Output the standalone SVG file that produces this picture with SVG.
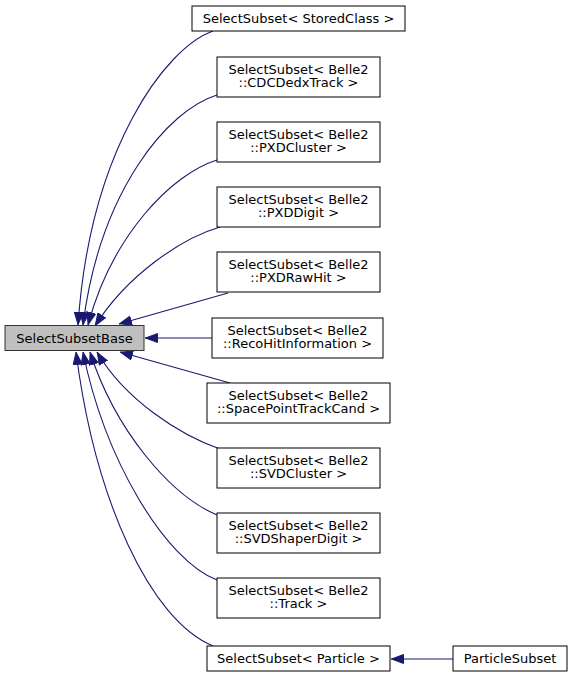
<svg xmlns="http://www.w3.org/2000/svg" width="573" height="677" viewBox="0 0 573 677">
<style>
.n rect{fill:#ffffff;stroke:#000000;stroke-width:1}
.n.cur rect{fill:#bfbfbf;stroke:#333333}
text{font-family:"DejaVu Sans","Liberation Sans",sans-serif;font-size:13px;fill:#000000;text-anchor:middle}
.e path{fill:none;stroke:#191970;stroke-width:1.1;marker-end:url(#ah)}
</style>
<defs>
<marker id="ah" markerUnits="userSpaceOnUse" viewBox="0 0 13 10" refX="13" refY="5" markerWidth="13" markerHeight="10" orient="auto">
<path d="M0.5,0.5 L12.5,5 L0.5,9.5 z" fill="#191970" stroke="#191970" stroke-width="1"/>
</marker>
</defs>
<rect width="573" height="677" fill="#ffffff"/>
<g id="edges" class="e">
<path d="M213,31 C165,48 90,150 78,325"/>
<path d="M217,95 C168,110 100,190 83,325"/>
<path d="M217,160 C172,174 112,235 88,325"/>
<path d="M220,227 C182,238 127,275 95,326"/>
<path d="M228,293 L119,324"/>
<path d="M212,338 L145,338"/>
<path d="M230,383 L120,352"/>
<path d="M220,449 C180,435 125,400 97,352"/>
<path d="M217,515 C170,495 115,430 90,352"/>
<path d="M217,580 C165,560 105,460 83,352"/>
<path d="M213,646 C150,620 95,500 76,352"/>
<path d="M453,659 L391,659"/>
</g>
<g id="node_base" class="n cur"><rect x="5" y="325.5" width="139" height="25"/><text x="74.5" y="342.5">SelectSubsetBase</text></g>
<g id="node_stored" class="n"><rect x="192" y="6" width="213" height="25"/><text x="298.5" y="23">SelectSubset&lt; StoredClass &gt;</text></g>
<g id="node_cdc" class="n"><rect x="217" y="57" width="163" height="40"/><text x="298.5" y="74">SelectSubset&lt; Belle2<tspan x="298.5" dy="13">::CDCDedxTrack &gt;</tspan></text></g>
<g id="node_pxdcluster" class="n"><rect x="217" y="122" width="163" height="40"/><text x="298.5" y="139">SelectSubset&lt; Belle2<tspan x="298.5" dy="13">::PXDCluster &gt;</tspan></text></g>
<g id="node_pxddigit" class="n"><rect x="217" y="187" width="163" height="40"/><text x="298.5" y="204">SelectSubset&lt; Belle2<tspan x="298.5" dy="13">::PXDDigit &gt;</tspan></text></g>
<g id="node_pxdraw" class="n"><rect x="217" y="252" width="163" height="40"/><text x="298.5" y="269">SelectSubset&lt; Belle2<tspan x="298.5" dy="13">::PXDRawHit &gt;</tspan></text></g>
<g id="node_reco" class="n"><rect x="212" y="318" width="171" height="40"/><text x="297.5" y="335">SelectSubset&lt; Belle2<tspan x="297.5" dy="13">::RecoHitInformation &gt;</tspan></text></g>
<g id="node_spacepoint" class="n"><rect x="207" y="383" width="183" height="40"/><text x="298.5" y="400">SelectSubset&lt; Belle2<tspan x="298.5" dy="13">::SpacePointTrackCand &gt;</tspan></text></g>
<g id="node_svdcluster" class="n"><rect x="217" y="448" width="163" height="40"/><text x="298.5" y="465">SelectSubset&lt; Belle2<tspan x="298.5" dy="13">::SVDCluster &gt;</tspan></text></g>
<g id="node_svdshaper" class="n"><rect x="217" y="513" width="163" height="40"/><text x="298.5" y="530">SelectSubset&lt; Belle2<tspan x="298.5" dy="13">::SVDShaperDigit &gt;</tspan></text></g>
<g id="node_track" class="n"><rect x="217" y="578" width="163" height="40"/><text x="298.5" y="595">SelectSubset&lt; Belle2<tspan x="298.5" dy="13">::Track &gt;</tspan></text></g>
<g id="node_particle" class="n"><rect x="207" y="646" width="183" height="25"/><text x="298.5" y="663">SelectSubset&lt; Particle &gt;</text></g>
<g id="node_particlesubset" class="n"><rect x="453" y="646" width="114" height="25"/><text x="510" y="663">ParticleSubset</text></g>
</svg>
